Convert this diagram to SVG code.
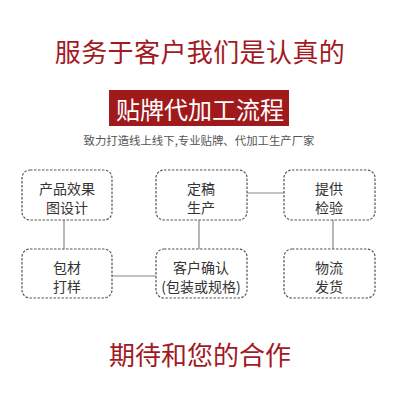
<svg xmlns="http://www.w3.org/2000/svg" width="400" height="400" viewBox="0 0 400 400">
<style>
.t{font-family:"Noto Sans CJK SC","Noto Sans",sans-serif;text-anchor:middle;dominant-baseline:central}
.red{fill:#a21a1f}
.box{fill:#fff;stroke:#555;stroke-width:1.2;stroke-dasharray:2.5 1.5}
.lbl{font-size:14px;fill:#333}
.ln{stroke:#888;stroke-width:1.2;fill:none}
</style>
<rect width="400" height="400" fill="#fff"/>
<text class="t red" x="200" y="50" font-size="26" letter-spacing="0.4">服务于客户我们是认真的</text>
<rect x="109" y="90" width="180" height="36" fill="#a01a1c"/>
<text class="t" x="200" y="108" font-size="24" fill="#fff">贴牌代加工流程</text>
<text class="t" x="199" y="140" font-size="11.4" fill="#555">致力打造线上线下,专业贴牌、代加工生产厂家</text>
<g id="connectors">
<line class="ln" x1="64" y1="220" x2="64" y2="249"/>
<line class="ln" x1="247" y1="193" x2="284" y2="193"/>
<line class="ln" x1="199" y1="220" x2="199" y2="249"/>
<line class="ln" x1="333" y1="220" x2="333" y2="249"/>
<line class="ln" x1="112" y1="276" x2="156" y2="276"/>
</g>
<g id="n1"><rect class="box" x="22" y="170" width="90" height="50" rx="8"/>
<text class="t lbl" x="67" y="188">产品效果</text><text class="t lbl" x="67" y="207">图设计</text></g>
<g id="n2"><rect class="box" x="156" y="170" width="91" height="50" rx="8"/>
<text class="t lbl" x="201" y="188">定稿</text><text class="t lbl" x="201" y="207">生产</text></g>
<g id="n3"><rect class="box" x="284" y="170" width="91" height="50" rx="8"/>
<text class="t lbl" x="329" y="188">提供</text><text class="t lbl" x="329" y="207">检验</text></g>
<g id="n4"><rect class="box" x="22" y="249" width="90" height="49" rx="8"/>
<text class="t lbl" x="67" y="267">包材</text><text class="t lbl" x="67" y="286">打样</text></g>
<g id="n5"><rect class="box" x="156" y="249" width="91" height="49" rx="8"/>
<text class="t lbl" x="201" y="267">客户确认</text><text class="t lbl" x="201" y="286">(包装或规格)</text></g>
<g id="n6"><rect class="box" x="284" y="249" width="91" height="49" rx="8"/>
<text class="t lbl" x="329" y="267">物流</text><text class="t lbl" x="329" y="286">发货</text></g>
<text class="t red" x="200" y="353" font-size="26">期待和您的合作</text>
</svg>
